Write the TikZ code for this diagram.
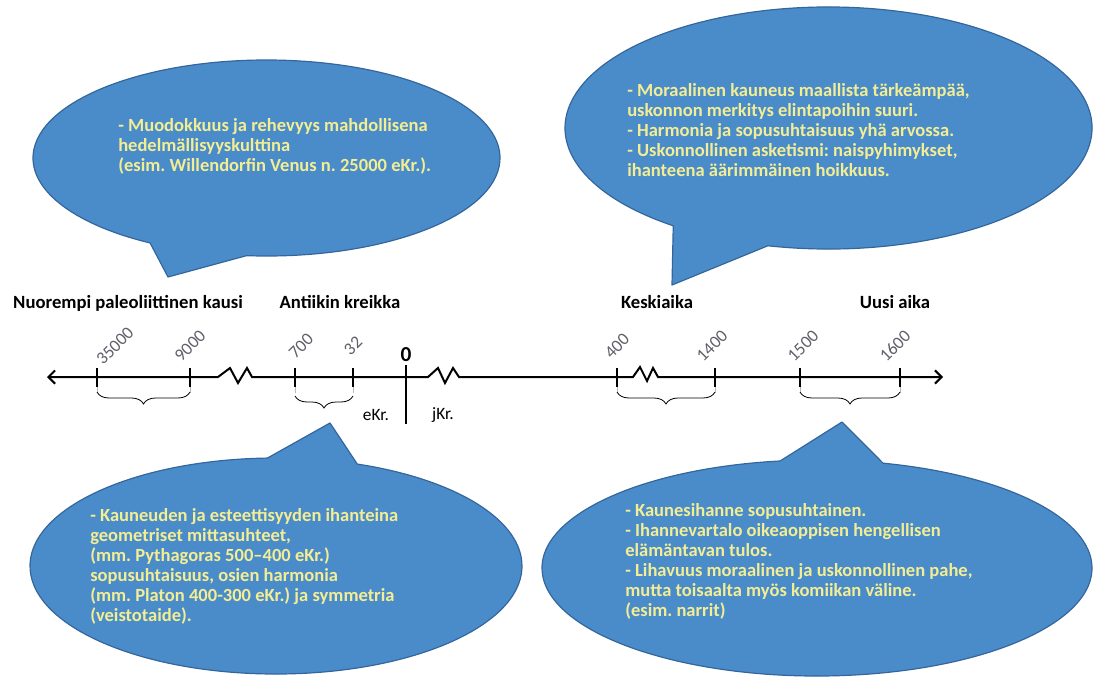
\documentclass[tikz,border=0pt]{standalone}
\usepackage{fontspec}
\setmainfont{Carlito}
\usetikzlibrary{arrows.meta,decorations.pathreplacing,calc}
\definecolor{bubblefill}{RGB}{74,140,202}
\definecolor{bubbleline}{RGB}{52,102,156}
\definecolor{textyellow}{RGB}{243,237,148}
\definecolor{yeargray}{RGB}{95,95,105}
\frenchspacing

\begin{document}
\begin{tikzpicture}[x=0.75pt,y=0.75pt,
    bubble/.style={fill=bubblefill, draw=bubbleline, line width=0.9pt, line join=round},
    bubbletext/.style={anchor=north west, inner sep=0pt, align=left, text=textyellow,
        font=\bfseries\fontsize{13.9}{15}\selectfont},
    period/.style={anchor=base, font=\bfseries\fontsize{14}{16}\selectfont},
    yearlabel/.style={rotate=45, inner sep=0pt, text=yeargray, font=\fontsize{13.2}{15}\selectfont},
    tickline/.style={line width=0.8pt},
    guideline/.style={gray!55, line width=0.6pt},
    yearbrace/.style={decorate, decoration={brace, mirror, amplitude=9pt}, line width=0.6pt}]
    \useasboundingbox (0,0) rectangle (1093,-682);

    % aikajana
    \coordinate (left end) at (47,-377);
    \coordinate (right end) at (943,-377);
    \coordinate (zero) at (406,-377);
    \foreach \yr/\x in {35000/97, 9000/190, 700/295, 32/353, 400/617, 1400/715, 1500/800, 1600/900}
        \coordinate (t\yr) at (\x,-377);

    \draw[line width=1.5pt, {Straight Barb[length=5pt,width=10pt]}-{Straight Barb[length=5pt,width=10pt]}]
        (left end) -- (218,-377) -- (230,-368) -- (238,-383) -- (247,-368) -- (252,-377)
        -- (428,-377) -- (438,-368) -- (445,-383) -- (453,-368) -- (459,-377)
        -- (633,-377) -- (640,-367) -- (647,-381) -- (653,-368) -- (658,-377) -- (right end);

    \foreach \yr in {35000, 9000, 700, 32, 400, 1400, 1500, 1600} {
        \draw[tickline] (t\yr) ++(0,9) -- ++(0,-19);
        \draw[guideline] (t\yr) ++(0,-10) -- ++(0,-6);
    }
    \draw[line width=1.7pt] (zero) ++(0,12) -- ++(0,-59);

    \draw[yearbrace] ($(t35000)+(0,-15)$) -- ($(t9000)+(0,-15)$);
    \draw[yearbrace] ($(t700)+(0,-19)$) -- ($(t32)+(0,-19)$);
    \draw[yearbrace] ($(t400)+(0,-15)$) -- ($(t1400)+(0,-15)$);
    \draw[yearbrace] ($(t1500)+(0,-15)$) -- ($(t1600)+(0,-15)$);

    \foreach \yr/\dx in {35000/18, 9000/0, 700/6, 32/0, 400/0, 1400/-3, 1500/3, 1600/-5}
        \node[yearlabel] (l\yr) at ($(t\yr)+(\dx,31)$) {\yr};

    \node[font=\bfseries\fontsize{16}{18}\selectfont] (zero label) at (406,-355) {0};
    \node[font=\fontsize{13}{15}\selectfont] (ekr) at (376,-415) {eKr.};
    \node[font=\fontsize{13}{15}\selectfont] (jkr) at (443,-415) {jKr.};

    \node[period] (paleo) at (128,-308) {Nuorempi paleoliittinen kausi};
    \node[period] (antiikki) at (340,-308) {Antiikin kreikka};
    \node[period] (keskiaika) at (657,-308) {Keskiaika};
    \node[period] (uusi) at (895,-308) {Uusi aika};

    % puhekuplat
    \coordinate (c1) at (266.5,-158);
    \coordinate (tip1) at (168,-277);
    \draw[bubble] (c1) ++(265.1:233.5 and 98) arc[start angle=265.1, end angle=600.1, x radius=233.5, y radius=98] -- (tip1) -- cycle;

    \coordinate (c2) at (828.5,-128);
    \coordinate (tip2) at (672,-285);
    \draw[bubble] (c2) ++(256.7:263.5 and 121) arc[start angle=256.7, end angle=593.9, x radius=263.5, y radius=121] -- (tip2) -- cycle;

    \coordinate (c3) at (276,-566);
    \coordinate (tip3) at (330,-423);
    \draw[bubble] (c3) ++(92:246 and 108) arc[start angle=92, end angle=430.7, x radius=246, y radius=108] -- (tip3) -- cycle;

    \coordinate (c4) at (817,-568);
    \coordinate (tip4) at (842,-422);
    \draw[bubble] (c4) ++(97.7:275 and 108) arc[start angle=97.7, end angle=436.1, x radius=275, y radius=108] -- (tip4) -- cycle;

    \node[bubbletext] (kupla1) at (118,-118) {- Muodokkuus ja rehevyys mahdollisena\\hedelmällisyyskulttina\\(esim. Willendorfin Venus n. 25000 eKr.).};
    \node[bubbletext] (kupla2) at (627,-83) {- Moraalinen kauneus maallista tärkeämpää,\\uskonnon merkitys elintapoihin suuri.\\- Harmonia ja sopusuhtaisuus yhä arvossa.\\- Uskonnollinen asketismi: naispyhimykset,\\ihanteena äärimmäinen hoikkuus.};
    \node[bubbletext] (kupla3) at (90,-508) {- Kauneuden ja esteettisyyden ihanteina\\geometriset mittasuhteet,\\(mm. Pythagoras 500–400 eKr.)\\sopusuhtaisuus, osien harmonia\\(mm. Platon 400-300 eKr.) ja symmetria\\(veistotaide).};
    \node[bubbletext] (kupla4) at (625,-503) {- Kaunesihanne sopusuhtainen.\\- Ihannevartalo oikeaoppisen hengellisen\\elämäntavan tulos.\\- Lihavuus moraalinen ja uskonnollinen pahe,\\mutta toisaalta myös komiikan väline.\\(esim. narrit)};
\end{tikzpicture}
\end{document}
